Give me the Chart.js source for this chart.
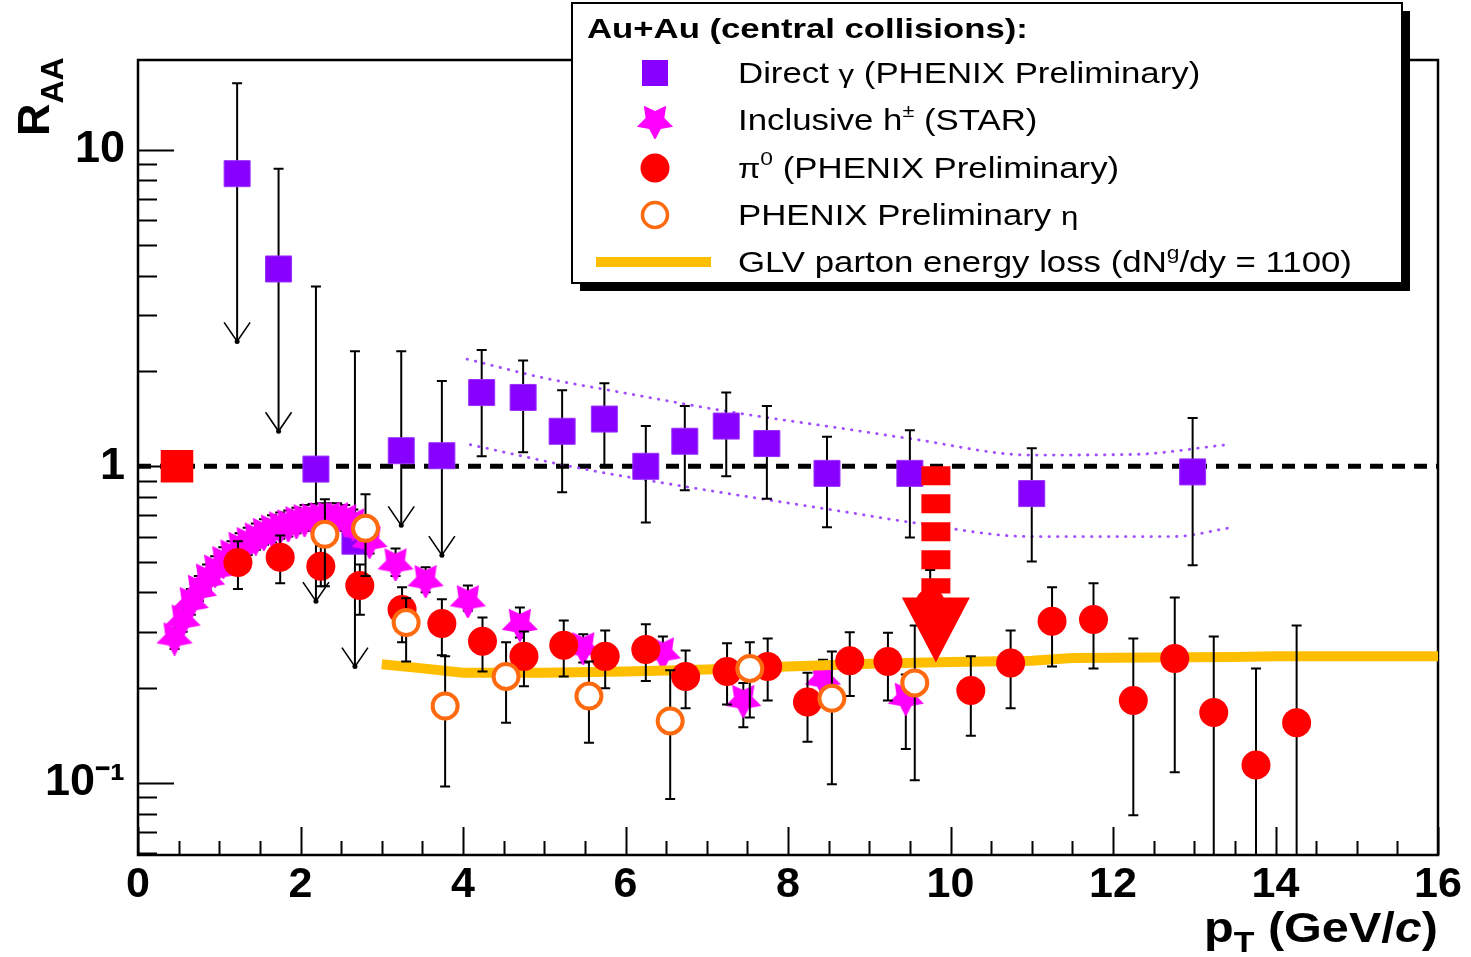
<!DOCTYPE html>
<html>
<head>
<meta charset="utf-8">
<script src="https://cdn.jsdelivr.net/npm/chart.js@4.4.0/dist/chart.umd.min.js"></script>
<style>
  html, body { margin: 0; padding: 0; background: #fff; }
  #raaChart { display: block; }
</style>
</head>
<body>
<canvas id="raaChart" width="1471" height="957"></canvas>
<script>
// axis ranges
const xMin = 0, xMax = 16;
const yMin = 0.0592, yMax = 19.2;
const yTickValues = [0.1, 1, 10];
const yTickText = ['10\u207B\u00B9', '1', '10'];

// Direct gamma (PHENIX Preliminary)
const gammaX = [1.22, 1.73, 2.19, 2.67, 3.24, 3.74, 4.23, 4.74, 5.22, 5.74, 6.25, 6.73, 7.24, 7.74, 8.48, 9.5, 11.0, 12.98];
const gammaY = [8.4, 4.2, 0.98, 0.58, 1.12, 1.08, 1.71, 1.65, 1.29, 1.41, 1.0, 1.2, 1.34, 1.18, 0.95, 0.95, 0.82, 0.96];
const gammaHi = [16.2, 8.7, 3.7, 2.31, 2.31, 1.86, 2.33, 2.16, 1.74, 1.83, 1.34, 1.55, 1.71, 1.55, 1.24, 1.30, 1.14, 1.42];
const gammaLo = [2.48, 1.29, 0.375, 0.233, 0.651, 0.524, 1.075, 1.107, 0.828, 1.0, 0.665, 0.84, 0.93, 0.79, 0.642, 0.596, 0.50, 0.487];
const gammaLimit = [1, 1, 1, 1, 1, 1, 0, 0, 0, 0, 0, 0, 0, 0, 0, 0, 0, 0];

// systematic band around direct gamma (dotted)
const bandUpX = [4.05, 5.0, 5.85, 7.33, 8.73, 9.53, 11.0, 12.23, 13.4];
const bandUpY = [2.18, 1.9, 1.73, 1.48, 1.31, 1.22, 1.085, 1.09, 1.17];
const bandLoX = [4.09, 5.4, 6.34, 7.33, 8.73, 9.5, 11.0, 12.74, 13.45];
const bandLoY = [1.17, 0.99, 0.897, 0.815, 0.716, 0.666, 0.6, 0.6, 0.64];

// Inclusive h+- (STAR)
const starX = [0.45, 0.55, 0.65, 0.75, 0.85, 0.95, 1.05, 1.15, 1.25, 1.35, 1.45, 1.55, 1.65, 1.75, 1.85, 1.95, 2.05, 2.15, 2.25, 2.35, 2.45, 2.55, 2.65, 2.75, 2.85,
  3.17, 3.54, 4.06, 4.7, 5.48, 6.46, 7.45, 8.43, 9.45];
const starY = [0.29, 0.33, 0.375, 0.41, 0.445, 0.475, 0.505, 0.53, 0.56, 0.58, 0.60, 0.62, 0.635, 0.65, 0.66, 0.675, 0.685, 0.69, 0.695, 0.697, 0.695, 0.685, 0.665, 0.63, 0.585,
  0.497, 0.44, 0.38, 0.32, 0.27, 0.26, 0.184, 0.215, 0.187];
const starHi = [0.32, 0.36, 0.41, 0.45, 0.49, 0.52, 0.555, 0.58, 0.615, 0.64, 0.66, 0.68, 0.70, 0.715, 0.725, 0.74, 0.755, 0.76, 0.765, 0.765, 0.765, 0.755, 0.73, 0.69, 0.64,
  0.55, 0.48, 0.42, 0.358, 0.295, 0.29, 0.207, 0.245, 0.22];
const starLo = [0.265, 0.30, 0.34, 0.375, 0.405, 0.43, 0.46, 0.48, 0.51, 0.525, 0.545, 0.565, 0.575, 0.59, 0.6, 0.615, 0.625, 0.63, 0.63, 0.635, 0.63, 0.625, 0.605, 0.575, 0.53,
  0.45, 0.40, 0.35, 0.288, 0.24, 0.23, 0.15, 0.19, 0.128];

// pi0 (PHENIX Preliminary)
const pi0X = [1.23, 1.75, 2.25, 2.73, 3.25, 3.74, 4.24, 4.75, 5.24, 5.75, 6.25, 6.74, 7.25, 7.75, 8.24, 8.76, 9.23, 9.75, 10.25, 10.74, 11.25, 11.76, 12.25, 12.76, 13.24, 13.76, 14.26];
const pi0Y = [0.497, 0.516, 0.483, 0.42, 0.353, 0.319, 0.28, 0.251, 0.272, 0.251, 0.264, 0.217, 0.225, 0.233, 0.18, 0.243, 0.242, 0.37, 0.196, 0.239, 0.324, 0.328, 0.182, 0.247, 0.167, 0.114, 0.155];
const pi0Hi = [0.58, 0.605, 0.56, 0.49, 0.415, 0.38, 0.333, 0.301, 0.326, 0.303, 0.317, 0.262, 0.276, 0.286, 0.223, 0.299, 0.298, 0.47, 0.251, 0.303, 0.415, 0.427, 0.286, 0.385, 0.29, 0.23, 0.314];
const pi0Lo = [0.41, 0.427, 0.418, 0.34, 0.278, 0.253, 0.225, 0.202, 0.217, 0.199, 0.21, 0.172, 0.177, 0.182, 0.135, 0.188, 0.182, 0.29, 0.141, 0.172, 0.233, 0.23, 0.079, 0.108, 0.03, 0.03, 0.03];

// eta (PHENIX Preliminary)
const etaX = [2.3, 2.8, 3.3, 3.78, 4.53, 5.55, 6.55, 7.53, 8.54, 9.56];
const etaY = [0.61, 0.637, 0.321, 0.175, 0.217, 0.188, 0.157, 0.23, 0.185, 0.207];
const etaHi = [0.787, 0.816, 0.383, 0.251, 0.278, 0.242, 0.227, 0.278, 0.26, 0.314];
const etaLo = [0.418, 0.45, 0.242, 0.0975, 0.155, 0.134, 0.089, 0.161, 0.099, 0.102];

// GLV parton energy loss (dNg/dy = 1100)
const glvX = [3.0, 3.5, 4.0, 5.0, 6.0, 7.0, 8.0, 9.0, 10.0, 11.0, 11.5, 12.5, 13.5, 14.0, 16.0];
const glvY = [0.237, 0.23, 0.223, 0.223, 0.225, 0.228, 0.233, 0.238, 0.241, 0.243, 0.248, 0.249, 0.25, 0.251, 0.251];

// normalisation box and arrow
const unityY = 1;
const normBoxX = 0.48, normBoxY = 1.0;
const normArrowX = 9.82, normArrowFrom = 1.0, normArrowNeck = 0.385, normArrowTip = 0.24;

const legendTitle = 'Au+Au (central collisions):';

const FONT = '"Liberation Sans", Arial, Helvetica, sans-serif';
const RED = '#ff0000';
const VIOLET = '#8800ff';
const MAGENTA = '#ff00ff';
const ORANGE = '#ff6a10';
const GOLD = '#ffbf00';

function pts(xs, ys) {
  return xs.map((x, i) => ({ x: x, y: ys[i] }));
}

// filled five-point star pointing down (ROOT style marker)
function makeStar(size, color) {
  const c = document.createElement('canvas');
  c.width = size;
  c.height = size;
  const g = c.getContext('2d');
  const R = size / 2, r = R * 0.52;
  g.beginPath();
  for (let i = 0; i < 10; i++) {
    const a = Math.PI / 2 + (i * Math.PI) / 5;
    const rad = i % 2 ? r : R;
    g.lineTo(R + rad * Math.cos(a), R + 1 + rad * Math.sin(a));
  }
  g.closePath();
  g.fillStyle = color;
  g.fill();
  return c;
}
const starImg = makeStar(38, MAGENTA);

function fontStr(p) {
  return (p.italic ? 'italic ' : '') + (p.bold ? 'bold ' : '') + p.size + 'px ' + FONT;
}
function measureRich(ctx, parts) {
  let w = 0;
  parts.forEach((p) => {
    ctx.font = fontStr(p);
    w += ctx.measureText(p.text).width;
  });
  return w;
}
function drawRich(ctx, x, y, parts, sx) {
  ctx.save();
  ctx.translate(x, y);
  ctx.scale(sx, 1);
  ctx.textBaseline = 'alphabetic';
  ctx.textAlign = 'left';
  let cx = 0;
  parts.forEach((p) => {
    ctx.font = fontStr(p);
    ctx.fillText(p.text, cx, p.dy || 0);
    cx += ctx.measureText(p.text).width;
  });
  ctx.restore();
}

// error bars, drawn just before each dataset so markers cover them
const errorBars = {
  id: 'errorBars',
  beforeDatasetDraw(chart, args) {
    const ds = chart.data.datasets[args.index];
    if (!ds.errHi) return;
    const { ctx, chartArea: a, scales: { x, y } } = chart;
    ctx.save();
    ctx.beginPath();
    ctx.rect(a.left, a.top, a.right - a.left, a.bottom - a.top);
    ctx.clip();
    ctx.strokeStyle = '#000';
    ctx.lineWidth = 2;
    ds.data.forEach((p, i) => {
      const px = x.getPixelForValue(p.x);
      const top = y.getPixelForValue(ds.errHi[i]);
      const bot = y.getPixelForValue(ds.errLo[i]);
      ctx.beginPath();
      ctx.moveTo(px, top);
      ctx.lineTo(px, bot);
      ctx.moveTo(px - 5, top);
      ctx.lineTo(px + 5, top);
      if (!(ds.limit && ds.limit[i])) {
        ctx.moveTo(px - 5, bot);
        ctx.lineTo(px + 5, bot);
      }
      ctx.stroke();
      if (ds.limit && ds.limit[i]) {
        ctx.save();
        ctx.lineWidth = 1.6;
        ctx.beginPath();
        ctx.moveTo(px - 13, bot - 19);
        ctx.lineTo(px, bot);
        ctx.lineTo(px + 13, bot - 19);
        ctx.stroke();
        ctx.fillStyle = '#000';
        ctx.beginPath();
        ctx.arc(px, bot, 2.5, 0, Math.PI * 2);
        ctx.fill();
        ctx.restore();
      }
    });
    ctx.restore();
  },
};

// frame and inward ticks in ROOT style
const frameTicks = {
  id: 'frameTicks',
  beforeDatasetsDraw(chart) {
    const { ctx, chartArea: a, scales: { x, y } } = chart;
    ctx.save();
    ctx.strokeStyle = '#000';
    ctx.lineWidth = 2;
    ctx.beginPath();
    for (let v = xMin; v <= xMax + 1e-9; v += 0.5) {
      const px = Math.round(x.getPixelForValue(v)) + 0.5;
      const len = Math.abs(v % 2) < 1e-9 ? 28 : 14;
      ctx.moveTo(px, a.bottom);
      ctx.lineTo(px, a.bottom - len);
    }
    for (let d = -2; d <= 1; d++) {
      for (let m = 1; m <= 9; m++) {
        const v = m * Math.pow(10, d);
        if (v < yMin || v > yMax) continue;
        const py = Math.round(y.getPixelForValue(v)) + 0.5;
        ctx.moveTo(a.left, py);
        ctx.lineTo(a.left + (m === 1 ? 36 : 19), py);
      }
    }
    ctx.stroke();
    ctx.lineWidth = 2.5;
    ctx.strokeRect(a.left, a.top, a.right - a.left, a.bottom - a.top);
    ctx.restore();
  },
};

// red normalisation arrow, axis titles and legend box
const overlay = {
  id: 'overlay',
  afterDatasetsDraw(chart) {
    const { ctx, scales: { x, y } } = chart;
    const px = x.getPixelForValue(normArrowX);
    const yFrom = y.getPixelForValue(normArrowFrom);
    const yNeck = y.getPixelForValue(normArrowNeck);
    const yTip = y.getPixelForValue(normArrowTip);
    ctx.save();
    ctx.strokeStyle = RED;
    ctx.lineWidth = 29;
    ctx.setLineDash([19, 9]);
    ctx.beginPath();
    ctx.moveTo(px, yFrom);
    ctx.lineTo(px, yNeck - 4);
    ctx.stroke();
    ctx.setLineDash([]);
    ctx.fillStyle = RED;
    ctx.beginPath();
    ctx.moveTo(px - 34, yNeck);
    ctx.lineTo(px + 34, yNeck);
    ctx.lineTo(px, yTip);
    ctx.closePath();
    ctx.fill();
    ctx.restore();
  },
  afterDraw(chart) {
    const { ctx, chartArea: a } = chart;
    ctx.save();
    ctx.fillStyle = '#000';

    // y title R_AA, rotated
    ctx.save();
    ctx.translate(49, a.top + 76);
    ctx.rotate(-Math.PI / 2);
    drawRich(ctx, 0, 0, [
      { text: 'R', size: 45, bold: true },
      { text: 'AA', size: 32, bold: true, dy: 14 },
    ], 1);
    ctx.restore();

    // x title p_T (GeV/c)
    const xt = [
      { text: 'p', size: 43, bold: true },
      { text: 'T', size: 30, bold: true, dy: 10 },
      { text: ' (GeV/', size: 43, bold: true },
      { text: 'c', size: 43, bold: true, italic: true },
      { text: ')', size: 43, bold: true },
    ];
    const xsx = 1.13;
    const xw = measureRich(ctx, xt) * xsx;
    drawRich(ctx, a.right - xw, 942, xt, xsx);

    // legend with shadow
    const L = 572, T = 3, R = 1402, B = 283;
    ctx.fillStyle = '#000';
    ctx.fillRect(L + 8, T + 8, R - L, B - T);
    ctx.fillStyle = '#fff';
    ctx.fillRect(L, T, R - L, B - T);
    ctx.strokeStyle = '#000';
    ctx.lineWidth = 2;
    ctx.strokeRect(L, T, R - L, B - T);

    ctx.fillStyle = '#000';
    drawRich(ctx, 587, 38, [{ text: legendTitle, size: 28, bold: true }], 1.24);

    const rows = [73, 120, 168, 215, 262];
    const mx = 655, tx = 738, fs = 29, sx = 1.2;
    // markers
    ctx.fillStyle = VIOLET;
    ctx.fillRect(mx - 13, rows[0] - 13, 26, 26);
    ctx.drawImage(starImg, mx - 19, rows[1] - 19);
    ctx.fillStyle = RED;
    ctx.beginPath();
    ctx.arc(mx, rows[2], 14.5, 0, Math.PI * 2);
    ctx.fill();
    ctx.strokeStyle = ORANGE;
    ctx.lineWidth = 3.5;
    ctx.fillStyle = '#fff';
    ctx.beginPath();
    ctx.arc(mx, rows[3], 12.5, 0, Math.PI * 2);
    ctx.fill();
    ctx.stroke();
    ctx.strokeStyle = GOLD;
    ctx.lineWidth = 10;
    ctx.beginPath();
    ctx.moveTo(596, rows[4]);
    ctx.lineTo(711, rows[4]);
    ctx.stroke();

    // labels
    ctx.fillStyle = '#000';
    const base = 10;
    drawRich(ctx, tx, rows[0] + base, [
      { text: 'Direct ', size: fs },
      { text: '\u03B3', size: fs - 3 },
      { text: ' (PHENIX Preliminary)', size: fs },
    ], sx);
    drawRich(ctx, tx, rows[1] + base, [
      { text: 'Inclusive h', size: fs },
      { text: '\u00B1', size: 18, dy: -13 },
      { text: ' (STAR)', size: fs },
    ], sx);
    drawRich(ctx, tx, rows[2] + base, [
      { text: '\u03C0', size: fs - 2 },
      { text: '0', size: 19, dy: -13 },
      { text: ' (PHENIX Preliminary)', size: fs },
    ], sx);
    drawRich(ctx, tx, rows[3] + base, [
      { text: 'PHENIX Preliminary ', size: fs },
      { text: '\u03B7', size: fs - 3 },
    ], sx);
    drawRich(ctx, tx, rows[4] + base, [
      { text: 'GLV parton energy loss (dN', size: fs },
      { text: 'g', size: 19, dy: -13 },
      { text: '/dy = 1100)', size: fs },
    ], sx);
    ctx.restore();
  },
};

const ctx = document.getElementById('raaChart').getContext('2d');
new Chart(ctx, {
  type: 'scatter',
  data: {
    datasets: [
      {
        label: 'PHENIX Preliminary eta',
        data: pts(etaX, etaY),
        errHi: etaHi,
        errLo: etaLo,
        pointStyle: 'circle',
        pointRadius: 12.5,
        pointBackgroundColor: '#fff',
        pointBorderColor: ORANGE,
        pointBorderWidth: 4,
      },
      {
        label: 'pi0 (PHENIX Preliminary)',
        data: pts(pi0X, pi0Y),
        errHi: pi0Hi,
        errLo: pi0Lo,
        pointStyle: 'circle',
        pointRadius: 14.5,
        pointBackgroundColor: RED,
        pointBorderColor: RED,
        pointBorderWidth: 0,
      },
      {
        label: 'normalisation',
        data: [{ x: normBoxX, y: normBoxY }],
        pointStyle: 'rect',
        pointRadius: 23,
        pointBackgroundColor: RED,
        pointBorderColor: RED,
        pointBorderWidth: 0,
      },
      {
        label: 'GLV parton energy loss',
        data: pts(glvX, glvY),
        showLine: true,
        borderColor: GOLD,
        borderWidth: 10,
        pointRadius: 0,
        tension: 0,
      },
      {
        label: 'Inclusive h (STAR)',
        data: pts(starX, starY),
        errHi: starHi,
        errLo: starLo,
        pointStyle: starImg,
        pointRadius: 19,
      },
      {
        label: 'Direct gamma (PHENIX Preliminary)',
        data: pts(gammaX, gammaY),
        errHi: gammaHi,
        errLo: gammaLo,
        limit: gammaLimit,
        pointStyle: 'rect',
        pointRadius: 18.4,
        pointBackgroundColor: VIOLET,
        pointBorderColor: '#9a30ff',
        pointBorderWidth: 1,
      },
      {
        label: 'band upper',
        data: pts(bandUpX, bandUpY),
        showLine: true,
        borderColor: '#a04cff',
        borderWidth: 2.8,
        borderDash: [0.5, 8],
        borderCapStyle: 'round',
        pointRadius: 0,
        cubicInterpolationMode: 'monotone',
      },
      {
        label: 'band lower',
        data: pts(bandLoX, bandLoY),
        showLine: true,
        borderColor: '#a04cff',
        borderWidth: 2.8,
        borderDash: [0.5, 8],
        borderCapStyle: 'round',
        pointRadius: 0,
        cubicInterpolationMode: 'monotone',
      },
      {
        label: 'unity',
        data: [{ x: xMin, y: unityY }, { x: xMax, y: unityY }],
        showLine: true,
        borderColor: '#000',
        borderWidth: 5,
        borderDash: [13, 9],
        pointRadius: 0,
      },
    ],
  },
  options: {
    responsive: false,
    animation: false,
    devicePixelRatio: 1,
    events: [],
    layout: { padding: { top: 60, right: 33, left: 0, bottom: 0 } },
    plugins: {
      legend: { display: false },
      tooltip: { enabled: false },
    },
    scales: {
      x: {
        type: 'linear',
        min: xMin,
        max: xMax,
        afterFit: (s) => { s.height = 102; },
        grid: { display: false, drawTicks: false },
        border: { display: false },
        ticks: {
          stepSize: 2,
          autoSkip: false,
          maxRotation: 0,
          padding: 4,
          color: '#000',
          font: { family: FONT, size: 43, weight: 'bold' },
        },
      },
      y: {
        type: 'logarithmic',
        min: yMin,
        max: yMax,
        afterFit: (s) => { s.width = 138; },
        afterBuildTicks: (s) => { s.ticks = yTickValues.map((v) => ({ value: v })); },
        grid: { display: false, drawTicks: false },
        border: { display: false },
        ticks: {
          autoSkip: false,
          padding: 13,
          color: '#000',
          font: { family: FONT, size: 45, weight: 'bold' },
          callback: (v) => yTickText[yTickValues.indexOf(v)],
        },
      },
    },
  },
  plugins: [errorBars, frameTicks, overlay],
});
</script>
</body>
</html>
